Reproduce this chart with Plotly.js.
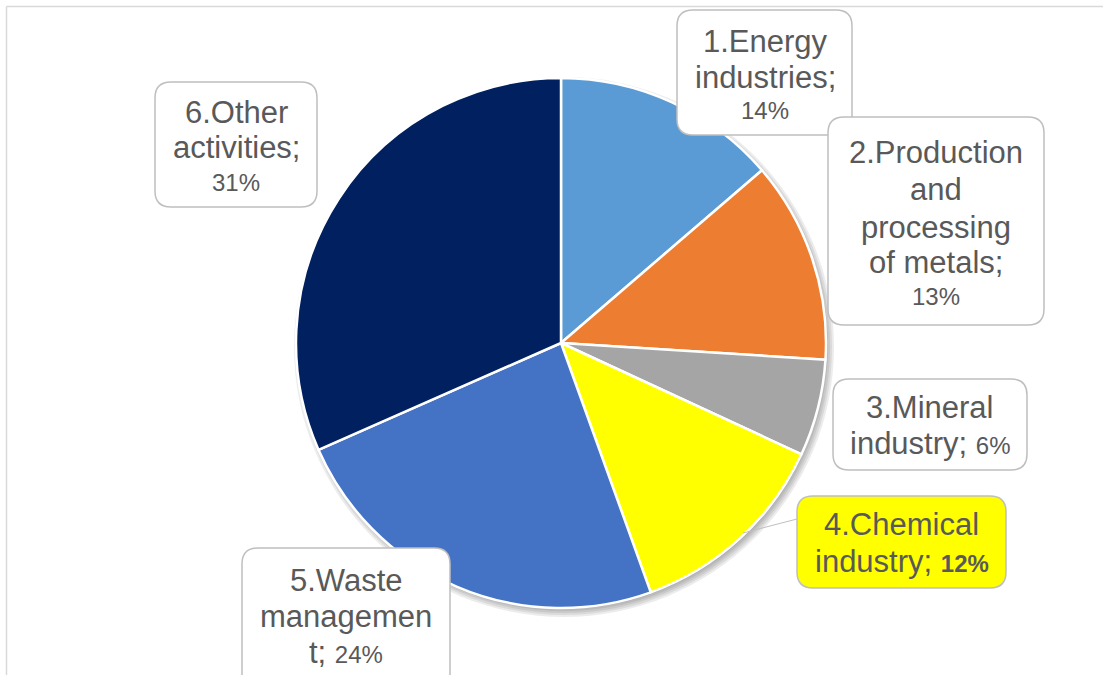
<!DOCTYPE html>
<html><head><meta charset="utf-8">
<script src="https://cdn.plot.ly/plotly-3.0.1.min.js"></script>
<style>
html,body{margin:0;padding:0;background:#fff;}
#chart{width:1103px;height:675px;}
</style></head><body>
<div id="chart"></div>
<script>
// ---- data ----
const categories = ['1.Energy industries', '2.Production and processing of metals', '3.Mineral industry', '4.Chemical industry', '5.Waste management', '6.Other activities'];
const shares = [13.7, 12.3, 5.9, 12.6, 23.9, 31.6];
const shareLabels = ['14%', '13%', '6%', '12%', '24%', '31%'];
const sliceColors = ['#5B9BD5', '#ED7D31', '#A5A5A5', '#FFFF00', '#4472C4', '#002060'];
// wrapped label text as shown in the chart (PCT = percentage placeholder)
const labelLines = [
  ['1.Energy', 'industries;', 'PCT'],
  ['2.Production', 'and', 'processing', 'of metals;', 'PCT'],
  ['3.Mineral', 'industry; PCT'],
  ['4.Chemical', 'industry; PCTB'],
  ['5.Waste', 'managemen', 't; PCT'],
  ['6.Other', 'activities;', 'PCT']
];

// ---- layout helpers ----
const W = 1103, H = 675;
const X = px => px / W, Y = py => 1 - py / H;
const pieBox = {x0: 296, x1: 826, y0: 78, y1: 608};
const boxes = [
  {rect: [677, 10, 852, 135], cx: 765, ys: [42, 77, 110.5], fill: '#ffffff'},
  {rect: [828, 117, 1044, 325], cx: 936, ys: [152.5, 189, 228, 262, 296], fill: '#ffffff'},
  {rect: [833, 379, 1027, 470], cx: 930, ys: [407, 443], fill: '#ffffff'},
  {rect: [797, 496, 1006, 588], cx: 901.5, ys: [524.5, 561], fill: '#FFFF00'},
  {rect: [242, 548, 450, 700], cx: 346, ys: [580, 616.5, 652], fill: '#ffffff'},
  {rect: [155, 82, 317, 207], cx: 236, ys: [112.5, 147.5, 183], fill: '#ffffff'}
];
function rrPath(x0, y0, x1, y1, r) {
  const P = (a, b) => X(a) + ',' + Y(b);
  return 'M' + P(x0 + r, y0) + ' L' + P(x1 - r, y0) + ' Q' + P(x1, y0) + ' ' + P(x1, y0 + r) +
    ' L' + P(x1, y1 - r) + ' Q' + P(x1, y1) + ' ' + P(x1 - r, y1) +
    ' L' + P(x0 + r, y1) + ' Q' + P(x0, y1) + ' ' + P(x0, y1 - r) +
    ' L' + P(x0, y0 + r) + ' Q' + P(x0, y0) + ' ' + P(x0 + r, y0) + ' Z';
}

const shapes = [
  {type: 'line', xref: 'paper', yref: 'paper', x0: X(6.5), y0: Y(6.5), x1: 1, y1: Y(6.5), line: {color: '#d9d9d9', width: 1.5}},
  {type: 'line', xref: 'paper', yref: 'paper', x0: X(6.5), y0: Y(6.5), x1: X(6.5), y1: 0, line: {color: '#d9d9d9', width: 1.5}}
];
// soft drop shadow under the pie (stacked translucent circles)
const pcx = (pieBox.x0 + pieBox.x1) / 2 + 3, pcy = (pieBox.y0 + pieBox.y1) / 2 + 4;
const pr = (pieBox.x1 - pieBox.x0) / 2;
[-3, -1, 1, 3, 5].forEach(d => {
  const r = pr + d;
  shapes.push({type: 'circle', xref: 'paper', yref: 'paper', layer: 'below',
    x0: X(pcx - r), x1: X(pcx + r), y0: Y(pcy + r), y1: Y(pcy - r),
    fillcolor: 'rgba(0,0,0,0.075)', line: {width: 0}});
});
shapes.push({type: 'line', xref: 'paper', yref: 'paper', layer: 'above', x0: X(743), y0: Y(533), x1: X(797), y1: Y(519), line: {color: '#bfbfbf', width: 1}});

const annotations = [];
const textColor = '#595959';
boxes.forEach((b, i) => {
  shapes.push({type: 'path', xref: 'paper', yref: 'paper', layer: 'above',
    path: rrPath(b.rect[0], b.rect[1], b.rect[2], b.rect[3], 16),
    fillcolor: b.fill, line: {color: '#bfbfbf', width: 1.5}});
  labelLines[i].forEach((ln, j) => {
    let txt, size = 31;
    if (ln === 'PCT') { txt = shareLabels[i]; size = 24; }
    else if (ln.indexOf('PCTB') >= 0) txt = ln.replace('PCTB', '<span style="font-size:24px"><b>' + shareLabels[i] + '</b></span>');
    else if (ln.indexOf('PCT') >= 0) txt = ln.replace('PCT', '<span style="font-size:24px">' + shareLabels[i] + '</span>');
    else txt = ln;
    annotations.push({xref: 'paper', yref: 'paper', x: X(b.cx), y: Y(b.ys[j]), xanchor: 'center', yanchor: 'middle',
      text: txt, showarrow: false, font: {family: 'Liberation Sans, Arial, sans-serif', size: size, color: textColor}});
  });
});

const trace = {
  type: 'pie', labels: categories, values: shares, sort: false, direction: 'clockwise', rotation: 0,
  marker: {colors: sliceColors, line: {color: '#ffffff', width: 2.5}},
  textinfo: 'none', hoverinfo: 'label+percent',
  domain: {x: [X(pieBox.x0), X(pieBox.x1)], y: [Y(pieBox.y1), Y(pieBox.y0)]}
};

Plotly.newPlot('chart', [trace], {
  width: W, height: H, margin: {l: 0, r: 0, t: 0, b: 0}, showlegend: false,
  paper_bgcolor: '#ffffff', plot_bgcolor: '#ffffff',
  font: {family: 'Liberation Sans, Arial, sans-serif', color: textColor},
  shapes: shapes, annotations: annotations
}, {displayModeBar: false, staticPlot: true});
</script></body></html>
